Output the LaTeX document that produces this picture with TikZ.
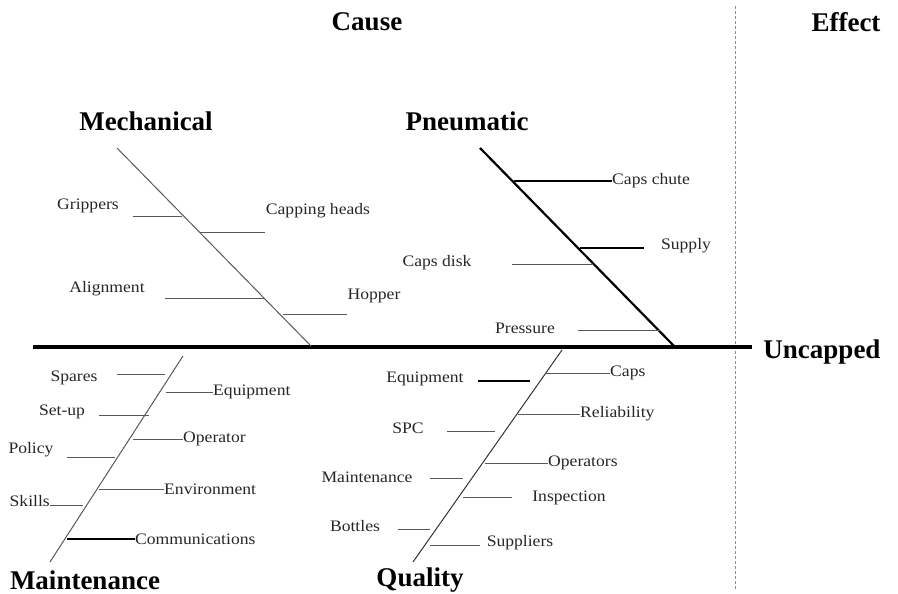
\documentclass[tikz,border=0pt]{standalone}
\usepackage{fontspec}
\setmainfont{Liberation Serif}
\newfontfamily\bonelabelfont[FakeStretch=1.1]{Liberation Serif}
\begin{document}
\begin{tikzpicture}[x=1pt,y=-1pt,
  heading/.style={font=\fontsize{27}{29}\selectfont\bfseries, inner sep=0pt},
  lbl/.style={font=\bonelabelfont\fontsize{16}{18}\selectfont, inner sep=0pt, text=black!85},
  bonelight/.style={draw=black!65, line width=1pt},
  boneheavy/.style={draw=black, line width=2.2pt},
  ticklight/.style={draw=black!65, line width=1pt},
  tickheavy/.style={draw=black, line width=1.8pt}]
\useasboundingbox (0,0) rectangle (898,594);

% cause / effect divider
\draw[black!45, line width=0.8pt, dash pattern=on 3pt off 2pt] (735,6) -- (735,590);
\node[heading] (cause) at (367,22) {Cause};
\node[heading] (effect) at (846,22) {Effect};

% main spine
\coordinate (spL) at (33,347);
\coordinate (spR) at (752,347);
\draw[black, line width=4pt] (spL) -- (spR);
\node[heading] (uncapped) at (822,352) {Uncapped};

% ---------- Mechanical ----------
\node[heading] (mech) at (146,121) {Mechanical};
\coordinate (mT) at (117,148);
\coordinate (mB) at (311,346);
\draw[bonelight] (mT) -- (mB);
\coordinate (m1a) at (133,216); \coordinate (m1b) at (182,216);
\coordinate (m2a) at (200,232); \coordinate (m2b) at (265,232);
\coordinate (m3a) at (165,298); \coordinate (m3b) at (264,298);
\coordinate (m4a) at (283,314); \coordinate (m4b) at (347,314);
\draw[ticklight] (m1a) -- (m1b);
\draw[ticklight] (m2a) -- (m2b);
\draw[ticklight] (m3a) -- (m3b);
\draw[ticklight] (m4a) -- (m4b);
\node[lbl] (grippers) at (88,206) {Grippers};
\node[lbl] (capheads) at (318,211) {Capping heads};
\node[lbl] (align) at (107,289) {Alignment};
\node[lbl] (hopper) at (374,296) {Hopper};

% ---------- Pneumatic ----------
\node[heading] (pneu) at (467,121) {Pneumatic};
\coordinate (pT) at (480,148);
\coordinate (pB) at (674,346);
\draw[boneheavy] (pT) -- (pB);
\coordinate (p1a) at (514,181); \coordinate (p1b) at (612,181);
\coordinate (p2a) at (580,248); \coordinate (p2b) at (644,248);
\coordinate (p3a) at (512,264); \coordinate (p3b) at (592,264);
\coordinate (p4a) at (578,330); \coordinate (p4b) at (660,330);
\draw[tickheavy] (p1a) -- (p1b);
\draw[tickheavy] (p2a) -- (p2b);
\draw[ticklight] (p3a) -- (p3b);
\draw[ticklight] (p4a) -- (p4b);
\node[lbl, anchor=west] (capschute) at (p1b) {Caps chute};
\node[lbl] (supply) at (686,246) {Supply};
\node[lbl] (capsdisk) at (437,263) {Caps disk};
\node[lbl] (pressure) at (525,328) {Pressure};

% ---------- Maintenance ----------
\node[heading] (maint) at (85,580) {Maintenance};
\coordinate (nT) at (183,356);
\coordinate (nB) at (50,562);
\draw[bonelight] (nT) -- (nB);
\coordinate (n1a) at (117,374); \coordinate (n1b) at (165,374);
\coordinate (n2a) at (166,392); \coordinate (n2b) at (213,392);
\coordinate (n3a) at (99,415);  \coordinate (n3b) at (149,415);
\coordinate (n4a) at (133,439); \coordinate (n4b) at (183,439);
\coordinate (n5a) at (67,457);  \coordinate (n5b) at (115,457);
\coordinate (n6a) at (99,489);  \coordinate (n6b) at (164,489);
\coordinate (n7a) at (50,505);  \coordinate (n7b) at (83,505);
\coordinate (n8a) at (67,539);  \coordinate (n8b) at (135,539);
\draw[ticklight] (n1a) -- (n1b);
\draw[ticklight] (n2a) -- (n2b);
\draw[ticklight] (n3a) -- (n3b);
\draw[ticklight] (n4a) -- (n4b);
\draw[ticklight] (n5a) -- (n5b);
\draw[ticklight] (n6a) -- (n6b);
\draw[ticklight] (n7a) -- (n7b);
\draw[tickheavy] (n8a) -- (n8b);
\node[lbl] (spares) at (74,378) {Spares};
\node[lbl, anchor=west] (mequip) at (n2b) {Equipment};
\node[lbl] (setup) at (62,412) {Set-up};
\node[lbl, anchor=west] (operator) at (n4b) {Operator};
\node[lbl] (policy) at (31,450) {Policy};
\node[lbl, anchor=west] (environ) at (n6b) {Environment};
\node[lbl, anchor=south east] (skills) at ([yshift=-2]n7a) {Skills};
\node[lbl, anchor=west] (comms) at (n8b) {Communications};

% ---------- Quality ----------
\node[heading] (quality) at (420,580) {Quality};
\coordinate (qT) at (562,350);
\coordinate (qB) at (413,562);
\draw[bonelight, draw=black!80] (qT) -- (qB);
\coordinate (q1a) at (478,381); \coordinate (q1b) at (530,381);
\coordinate (q2a) at (546,373); \coordinate (q2b) at (610,373);
\coordinate (q3a) at (518,414); \coordinate (q3b) at (580,414);
\coordinate (q4a) at (447,431); \coordinate (q4b) at (495,431);
\coordinate (q5a) at (485,463); \coordinate (q5b) at (548,463);
\coordinate (q6a) at (430,478); \coordinate (q6b) at (463,478);
\coordinate (q7a) at (463,497); \coordinate (q7b) at (512,497);
\coordinate (q8a) at (398,529); \coordinate (q8b) at (430,529);
\coordinate (q9a) at (430,545); \coordinate (q9b) at (480,545);
\draw[tickheavy] (q1a) -- (q1b);
\draw[ticklight] (q2a) -- (q2b);
\draw[ticklight] (q3a) -- (q3b);
\draw[ticklight] (q4a) -- (q4b);
\draw[ticklight] (q5a) -- (q5b);
\draw[ticklight] (q6a) -- (q6b);
\draw[ticklight] (q7a) -- (q7b);
\draw[ticklight] (q8a) -- (q8b);
\draw[ticklight] (q9a) -- (q9b);
\node[lbl] (qequip) at (425,379) {Equipment};
\node[lbl, anchor=west] (caps) at (q2b) {Caps};
\node[lbl, anchor=west] (reliab) at (q3b) {Reliability};
\node[lbl] (spc) at (408,428) {SPC};
\node[lbl, anchor=west] (operators) at (q5b) {Operators};
\node[lbl] (qmaint) at (367,477) {Maintenance};
\node[lbl] (inspect) at (569,498) {Inspection};
\node[lbl] (bottles) at (355,526) {Bottles};
\node[lbl] (suppliers) at (520,543) {Suppliers};
\end{tikzpicture}
\end{document}
